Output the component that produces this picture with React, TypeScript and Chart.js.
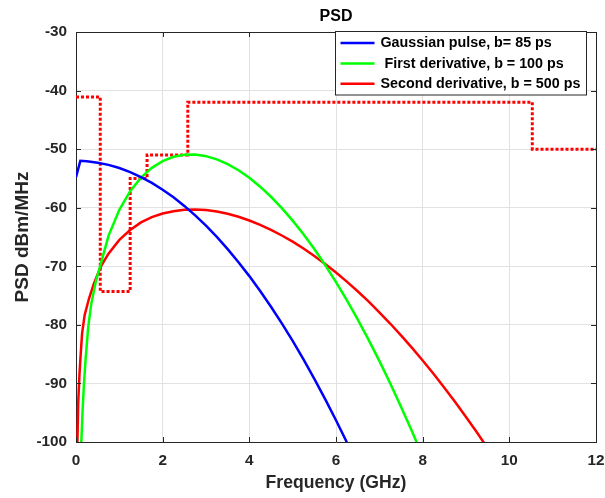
import React, { useEffect, useRef } from "react";
import { Chart, registerables } from "chart.js";

Chart.register(...registerables);

const chartTitle = "PSD";
const xAxisTitle = "Frequency (GHz)";
const yAxisTitle = "PSD dBm/MHz";
const xTickValues = [0, 2, 4, 6, 8, 10, 12];
const yTickValues = [-100, -90, -80, -70, -60, -50, -40, -30];

const gaussLabel = "Gaussian pulse, b= 85 ps";
const gaussFreq = [0, 0.1, 0.25, 0.5, 0.75, 1.0, 1.25, 1.5, 1.75, 2.0, 2.25, 2.5, 2.75, 3.0, 3.25, 3.5, 3.75, 4.0, 4.25, 4.5, 4.75, 5.0, 5.25, 5.5, 5.75, 6.0, 6.25];
const gaussPsd = [-54.8, -52.0, -52.08, -52.31, -52.69, -53.23, -53.92, -54.77, -55.77, -56.92, -58.23, -59.69, -61.3, -63.07, -64.99, -67.07, -69.3, -71.68, -74.22, -76.91, -79.75, -82.75, -85.9, -89.21, -92.67, -96.28, -100.05];

const firstLabel = " First derivative, b = 100 ps";
const firstFreq = [0.12, 0.15, 0.18, 0.22, 0.28, 0.35, 0.46, 0.575, 0.75, 1.0, 1.25, 1.5, 1.75, 2.0, 2.25, 2.5, 2.75, 3.0, 3.25, 3.5, 3.75, 4.0, 4.25, 4.5, 4.75, 5.0, 5.25, 5.5, 5.75, 6.0, 6.25, 6.5, 6.75, 7.0, 7.25, 7.5, 7.75, 8.0];
const firstPsd = [-100.5, -95, -90.5, -86, -80.5, -76.5, -72.5, -69.5, -64.8, -60.35, -57.17, -54.86, -53.19, -52.04, -51.31, -50.95, -50.93, -51.2, -51.75, -52.56, -53.61, -54.9, -56.41, -58.13, -60.06, -62.2, -64.53, -67.06, -69.78, -72.69, -75.79, -79.07, -82.52, -86.16, -89.98, -93.97, -98.13, -102.47];

const secondLabel = "Second derivative, b = 500 ps";
const secondFreq = [0.03, 0.05, 0.08, 0.1, 0.14, 0.2, 0.3, 0.41, 0.575, 0.75, 1.0, 1.25, 1.5, 1.75, 2.0, 2.25, 2.5, 2.75, 3.0, 3.25, 3.5, 3.75, 4.0, 4.25, 4.5, 4.75, 5.0, 5.25, 5.5, 5.75, 6.0, 6.25, 6.5, 6.75, 7.0, 7.25, 7.5, 7.75, 8.0, 8.25, 8.5, 8.75, 9.0, 9.25, 9.5];
const secondPsd = [-101, -93.5, -88.5, -86, -81.5, -78.3, -75.5, -73.0, -70.0, -67.85, -65.5, -63.8, -62.5, -61.6, -61.0, -60.6, -60.35, -60.3, -60.4, -60.66, -61.04, -61.55, -62.18, -62.92, -63.78, -64.74, -65.8, -66.97, -68.24, -69.6, -71.06, -72.62, -74.27, -76.0, -77.85, -79.77, -81.79, -83.89, -86.08, -88.36, -90.73, -93.19, -95.73, -98.35, -101.07];

const maskFreq = [0, 0.56, 0.56, 1.25, 1.25, 1.64, 1.64, 2.58, 2.58, 10.53, 10.53, 12];
const maskPsd = [-41.1, -41.1, -74.3, -74.3, -55.0, -55.0, -51.0, -51.0, -42.0, -42.0, -50.0, -50.0];

const FONT = '"Liberation Sans", Arial, Helvetica, sans-serif';
const AXIS_COLOR = "#262626";

function pts(xs: number[], ys: number[]) {
  return xs.map((x, i) => ({ x, y: ys[i] }));
}

const decorPlugin = {
  id: "decor",
  afterDatasetsDraw(chart: any) {
    const { ctx, chartArea, scales } = chart;
    const { left, right, top, bottom } = chartArea;
    ctx.save();
    ctx.strokeStyle = AXIS_COLOR;
    ctx.lineWidth = 1;
    ctx.beginPath();
    ctx.moveTo(Math.round(left) + 0.5, Math.round(top) + 0.5);
    ctx.lineTo(Math.round(right) + 0.5, Math.round(top) + 0.5);
    ctx.lineTo(Math.round(right) + 0.5, Math.round(bottom) + 0.5);
    ctx.stroke();
    const tl = 5;
    ctx.beginPath();
    xTickValues.forEach((v) => {
      const px = Math.round(scales.x.getPixelForValue(v)) + 0.5;
      ctx.moveTo(px, bottom);
      ctx.lineTo(px, bottom - tl);
      ctx.moveTo(px, top);
      ctx.lineTo(px, top + tl);
    });
    yTickValues.forEach((v) => {
      const py = Math.round(scales.y.getPixelForValue(v)) + 0.5;
      ctx.moveTo(left, py);
      ctx.lineTo(left + tl, py);
      ctx.moveTo(right, py);
      ctx.lineTo(right - tl, py);
    });
    ctx.stroke();

    ctx.fillStyle = "#000";
    ctx.font = `bold 16px ${FONT}`;
    ctx.textAlign = "center";
    ctx.textBaseline = "middle";
    ctx.fillText(chartTitle, (left + right) / 2, 17);

    const items = chart.data.datasets.filter((d: any) => d.inLegend);
    const bx0 = Math.round(right) - 9.5;
    const bw = 251;
    const bx = bx0 - bw;
    const by = Math.round(top) - 0.5;
    const bh = 63.5;
    ctx.fillStyle = "#fff";
    ctx.fillRect(bx, by, bw, bh);
    ctx.strokeStyle = AXIS_COLOR;
    ctx.lineWidth = 1;
    ctx.strokeRect(bx, by, bw, bh);
    ctx.font = `bold 14.3px ${FONT}`;
    ctx.textAlign = "left";
    ctx.textBaseline = "middle";
    items.forEach((d: any, i: number) => {
      const ry = by + 11.5 + i * 20.4;
      ctx.strokeStyle = d.borderColor;
      ctx.lineWidth = 2.5;
      ctx.beginPath();
      ctx.moveTo(bx + 5, ry);
      ctx.lineTo(bx + 39, ry);
      ctx.stroke();
      ctx.fillStyle = "#000";
      ctx.fillText(d.label, bx + 45, ry + 0.5);
    });
    ctx.restore();
  },
};

export default function App() {
  const canvasRef = useRef<HTMLCanvasElement | null>(null);

  useEffect(() => {
    const canvas = canvasRef.current;
    if (!canvas) return;
    const lineDs = (label: string, xs: number[], ys: number[], color: string) => ({
      label,
      data: pts(xs, ys),
      borderColor: color,
      backgroundColor: color,
      borderWidth: 2.5,
      pointRadius: 0,
      tension: 0,
      fill: false,
      inLegend: true,
    });
    const chart = new Chart(canvas, {
      type: "line",
      data: {
        datasets: [
          lineDs(gaussLabel, gaussFreq, gaussPsd, "#0000ff"),
          lineDs(firstLabel, firstFreq, firstPsd, "#00ff00"),
          lineDs(secondLabel, secondFreq, secondPsd, "#ff0000"),
          {
            label: "mask",
            data: pts(maskFreq, maskPsd),
            borderColor: "#ff0000",
            backgroundColor: "#ff0000",
            borderWidth: 3,
            borderDash: [3, 2],
            pointRadius: 0,
            tension: 0,
            fill: false,
            inLegend: false,
          } as any,
        ],
      },
      options: {
        animation: false,
        responsive: false,
        devicePixelRatio: 1,
        layout: { padding: { top: 32, right: 9, left: 0, bottom: 0 } },
        plugins: {
          legend: { display: false },
          title: { display: false },
          tooltip: { enabled: false },
        },
        scales: {
          x: {
            type: "linear",
            min: 0,
            max: 12,
            afterBuildTicks: (s: any) => {
              s.ticks = xTickValues.map((v) => ({ value: v }));
            },
            ticks: {
              color: AXIS_COLOR,
              font: { family: FONT, size: 15.3, weight: "bold" },
              padding: 9.5,
              maxRotation: 0,
            },
            grid: { color: "#e2e2e2", lineWidth: 1, drawTicks: false },
            border: { color: AXIS_COLOR, width: 1 },
            title: {
              display: true,
              text: xAxisTitle,
              color: AXIS_COLOR,
              font: { family: FONT, size: 17.6, weight: "bold" },
              padding: { top: 0, bottom: 4 },
            },
            afterFit: (s: any) => {
              s.height = 56;
              s.paddingLeft = 0;
              s.paddingRight = 0;
            },
          },
          y: {
            type: "linear",
            min: -100,
            max: -30,
            afterBuildTicks: (s: any) => {
              s.ticks = yTickValues.map((v) => ({ value: v }));
            },
            ticks: {
              color: AXIS_COLOR,
              font: { family: FONT, size: 15.3, weight: "bold" },
              padding: 9,
            },
            grid: { color: "#e2e2e2", lineWidth: 1, drawTicks: false },
            border: { color: AXIS_COLOR, width: 1 },
            title: {
              display: true,
              text: yAxisTitle,
              color: AXIS_COLOR,
              font: { family: FONT, size: 19, weight: "bold" },
              padding: { top: 11, bottom: 0 },
            },
            afterFit: (s: any) => {
              s.width = 76;
              s.paddingTop = 0;
              s.paddingBottom = 0;
            },
          },
        },
      } as any,
      plugins: [decorPlugin],
    });
    return () => chart.destroy();
  }, []);

  return (
    <div style={{ position: "fixed", left: 0, top: 0, width: 605, height: 498, background: "#fff" }}>
      <canvas ref={canvasRef} width={605} height={498} style={{ display: "block", width: 605, height: 498 }} />
    </div>
  );
}
